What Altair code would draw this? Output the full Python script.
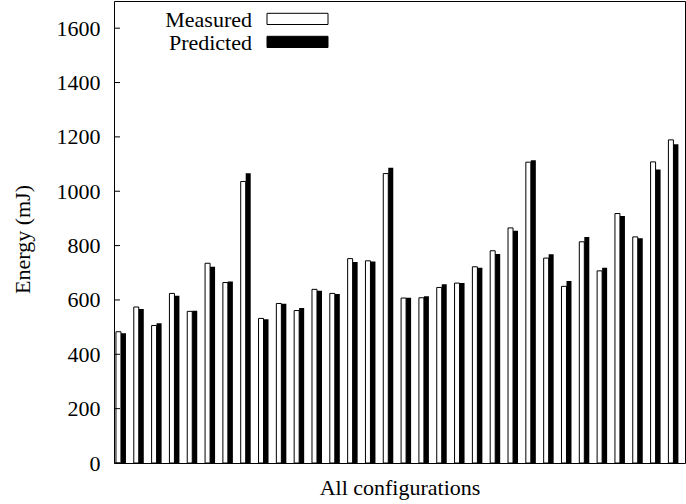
import altair as alt
import pandas as pd

# Energy per configuration, measured vs. model prediction (mJ)
SERIES = ["Measured", "Predicted"]
MEASURED = [483, 574, 506, 624, 558, 735, 664, 1036, 532, 587, 561, 639, 624, 752, 744, 1065,
            607, 608, 646, 662, 722, 781, 865, 1107, 754, 650, 814, 707, 918, 832, 1108, 1189]
PREDICTED = [477, 567, 514, 615, 560, 722, 668, 1066, 529, 586, 570, 634, 622, 740, 741, 1086,
             608, 614, 658, 662, 718, 769, 855, 1114, 768, 670, 832, 718, 909, 827, 1080, 1173]
Y_TICKS = [0, 200, 400, 600, 800, 1000, 1200, 1400, 1600]

FONT = "Liberation Serif"
W, H = 571, 462

n = len(MEASURED)
df = pd.DataFrame({
    "config": list(range(n)) * 2,
    "series": [SERIES[0]] * n + [SERIES[1]] * n,
    "energy": MEASURED + PREDICTED,
})

x_scale = alt.Scale(domain=[-0.11, n - 1 + 0.37], nice=False, zero=False)
y_scale = alt.Scale(domain=[0, 1700], nice=False)

x_enc = alt.X("config:Q", scale=x_scale,
              axis=alt.Axis(title="All configurations", labels=False, ticks=False,
                            grid=False, domain=False, titleFont=FONT, titleFontSize=22,
                            titleFontWeight="normal", titleColor="black",
                            titleY=24, titleBaseline="middle"))
y_enc = alt.Y("energy:Q", scale=y_scale,
              axis=alt.Axis(values=Y_TICKS, format="d", title="Energy (mJ)", grid=False,
                            ticks=False, tickSize=0, domain=False, labelFont=FONT,
                            labelFontSize=22, labelColor="black", labelPadding=14,
                            labelBaseline="middle", titleFont=FONT, titleFontSize=22,
                            titleFontWeight="normal", titleColor="black", titleAngle=270,
                            titleX=-92, titleY=H / 2 + 7, titleAlign="center",
                            titleBaseline="middle"))

base = alt.Chart(df)

measured = base.transform_filter(alt.datum.series == SERIES[0]).mark_bar(
    orient="vertical", width=5, xOffset=-2.5, fill="white", stroke="black",
    strokeWidth=1, clip=True
).encode(x=x_enc, y=y_enc)

predicted = base.transform_filter(alt.datum.series == SERIES[1]).mark_bar(
    orient="vertical", width=5, xOffset=2.5, fill="black", clip=True
).encode(x=x_enc, y=y_enc)

# inward tick marks on the left border
ticks = alt.Chart(pd.DataFrame({"energy": Y_TICKS})).mark_rule(
    color="black", strokeWidth=1
).encode(y=y_enc, x=alt.value(0), x2=alt.value(6))

# key in the top-left corner: label text followed by a sample box
key_layers = []
for i, (name, fill) in enumerate(zip(SERIES, ["white", "black"])):
    kdf = pd.DataFrame({"name": [name]})
    key_layers.append(
        alt.Chart(kdf).mark_text(align="right", baseline="alphabetic", font=FONT,
                                 fontSize=22, color="black").encode(
            text="name:N", x=alt.value(138), y=alt.value(25.5 + 23 * i))
    )
    key_layers.append(
        alt.Chart(kdf).mark_rect(fill=fill, stroke="black", strokeWidth=1).encode(
            x=alt.value(153), x2=alt.value(214),
            y=alt.value(12.3 + 23 * i), y2=alt.value(23.5 + 23 * i))
    )

chart = alt.layer(measured, predicted, ticks, *key_layers).properties(
    width=W, height=H,
    autosize=alt.AutoSizeParams(type="none"),
    padding={"left": 114, "top": 1, "right": 1, "bottom": 41},
    background="white",
).configure_view(stroke="black", strokeWidth=1)

chart.save("out.html", embed_options={"renderer": "svg", "actions": False})
